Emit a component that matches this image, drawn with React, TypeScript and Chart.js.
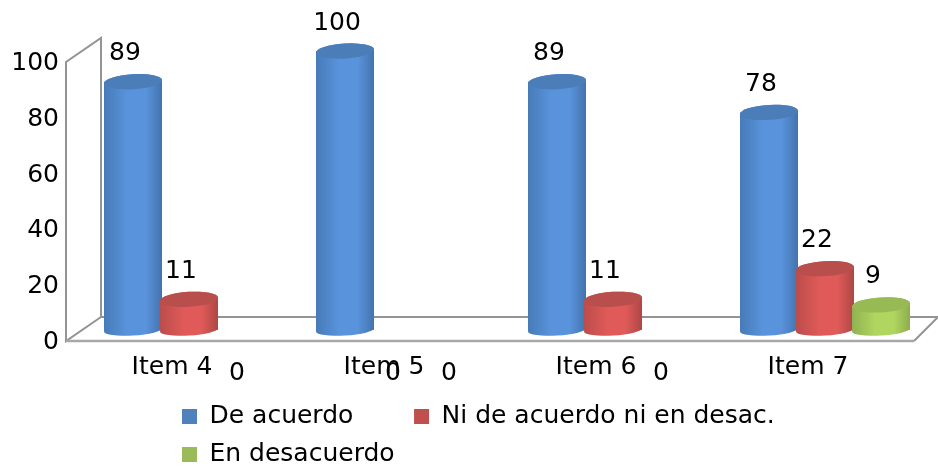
import React, { useEffect, useRef } from "react";
import { Chart, registerables } from "chart.js";

Chart.register(...registerables);

const categories = ["Item 4", "Item 5", "Item 6", "Item 7"];
const deAcuerdo = [89, 100, 89, 78];
const niDeAcuerdo = [11, 0, 11, 22];
const enDesacuerdo = [0, 0, 0, 9];
const seriesNames = ["De acuerdo", "Ni de acuerdo ni en desac.", "En desacuerdo"];
const yTicksMax = 100;

const FONT = "'DejaVu Sans'";
const FS = 25;
const shades = [
  { solid: "#4f81bd", edgeL: "#477bb8", mid: "#5993dc", edgeR: "#4373ad", top: "#4b7db9" },
  { solid: "#c0504d", edgeL: "#bb4d4b", mid: "#df5a58", edgeR: "#ad4745", top: "#b94f4d" },
  { solid: "#9bbb59", edgeL: "#8fb251", mid: "#b0d660", edgeR: "#8dad4e", top: "#98ba55" },
];

const wallPlugin = {
  id: "wall3d",
  afterLayout(chart: any) {
    const lg = chart.legend;
    lg.left = 169;
    lg.right = 900;
    lg.top = 391;
  },
  beforeDatasetsDraw(chart: any) {
    const { ctx, chartArea: a } = chart;
    const x0 = a.left - 17;
    const x1 = a.right - 17;
    const dx = 35;
    const dy = 24;
    ctx.save();
    ctx.strokeStyle = "#949494";
    ctx.lineWidth = 2;
    ctx.beginPath();
    ctx.moveTo(x0 + dx, a.bottom - dy);
    ctx.lineTo(x1 + 24, a.bottom - dy);
    ctx.lineTo(x1, a.bottom);
    ctx.moveTo(x0 + dx, a.bottom - dy);
    ctx.lineTo(x0 + dx, a.top - dy);
    ctx.lineTo(x0, a.top);
    ctx.lineTo(x0, a.bottom);
    ctx.lineTo(x0 + dx, a.bottom - dy);
    ctx.stroke();
    ctx.strokeStyle = "#a8a8a8";
    ctx.lineWidth = 2.4;
    ctx.beginPath();
    ctx.moveTo(x0, a.bottom);
    ctx.lineTo(x1, a.bottom);
    ctx.stroke();
    ctx.restore();
  },
  afterDatasetsDraw(chart: any) {
    const { ctx } = chart;
    const rot = -0.06;
    const ryTop = 7.5;
    const ryBase = 5.5;
    ctx.save();
    chart.data.datasets.forEach((ds: any, di: number) => {
      const meta = chart.getDatasetMeta(di);
      const c = shades[di];
      meta.data.forEach((bar: any, i: number) => {
        if (!ds.data[i]) return;
        const { x, y, base, width } = bar.getProps(["x", "y", "base", "width"], true);
        const rx = width / 2;
        const g = ctx.createLinearGradient(x - rx, 0, x + rx, 0);
        g.addColorStop(0, c.edgeL);
        g.addColorStop(0.4, c.mid);
        g.addColorStop(0.72, c.mid);
        g.addColorStop(1, c.edgeR);
        ctx.beginPath();
        ctx.ellipse(x, base, rx, ryBase, rot, 0, Math.PI, false);
        ctx.ellipse(x, y, rx, ryTop, rot, Math.PI, 0, false);
        ctx.closePath();
        ctx.fillStyle = g;
        ctx.fill();
        ctx.beginPath();
        ctx.ellipse(x, y, rx, ryTop, rot, 0, Math.PI * 2);
        ctx.fillStyle = c.top;
        ctx.fill();
      });
    });
    ctx.fillStyle = "#000";
    ctx.font = `${FS}px ${FONT}`;
    ctx.textAlign = "center";
    ctx.textBaseline = "middle";
    chart.data.datasets.forEach((ds: any, di: number) => {
      const meta = chart.getDatasetMeta(di);
      meta.data.forEach((bar: any, i: number) => {
        const { x, y } = bar.getProps(["x", "y"], true);
        const v = ds.data[i];
        ctx.fillText(String(v), x - 8, v === 0 ? y + 43 : y - 28);
      });
    });
    ctx.restore();
  },
};

export default function App() {
  const ref = useRef<HTMLCanvasElement>(null);
  useEffect(() => {
    const font = { family: FONT, size: FS };
    const chart = new Chart(ref.current as HTMLCanvasElement, {
      type: "bar",
      data: {
        labels: categories,
        datasets: [deAcuerdo, niDeAcuerdo, enDesacuerdo].map((data, i) => ({
          label: seriesNames[i],
          data,
          yAxisID: "yBars",
          backgroundColor: shades[i].solid,
          borderWidth: 0,
          categoryPercentage: 0.7925,
          barPercentage: 1.036,
          clip: false as any,
        })),
      },
      plugins: [wallPlugin],
      options: {
        responsive: false,
        animation: false,
        devicePixelRatio: 1,
        layout: { padding: { top: 62, right: 7, left: 0, bottom: 0 } },
        plugins: {
          tooltip: { enabled: false },
          legend: {
            position: "bottom",
            align: "start",
            maxWidth: 760,
            labels: {
              font,
              color: "#000",
              boxWidth: 15,
              boxHeight: 15,
              padding: 13,
              generateLabels(c: any) {
                const items = Chart.defaults.plugins.legend.labels.generateLabels(c);
                items.forEach((it: any, i: number) => {
                  it.lineWidth = 0;
                  if (i === 0) it.text = it.text + " ".repeat(6);
                });
                return items;
              },
            },
          },
        },
        scales: {
          x: {
            grid: { display: false },
            border: { display: false },
            ticks: {
              font,
              color: "#000",
              padding: 3,
              labelOffset: -17,
              autoSkip: false,
              maxRotation: 0,
            },
            afterFit(s: any) {
              s.height = 78;
            },
          },
          y: {
            position: "left",
            min: 0,
            max: yTicksMax,
            grid: { display: false },
            border: { display: false },
            ticks: { font, color: "#000", stepSize: 20, padding: 16, labelOffset: 1.5 },
            afterFit(s: any) {
              s.width = 83;
            },
          },
          yBars: { display: false, min: -3.94, max: 96.06 },
        },
      },
    } as any);
    return () => chart.destroy();
  }, []);
  return (
    <div style={{ position: "absolute", left: 0, top: 0, width: 938, height: 467, overflow: "hidden", background: "#fff" }}>
      <canvas ref={ref} width={938} height={467} style={{ display: "block" }} />
    </div>
  );
}
